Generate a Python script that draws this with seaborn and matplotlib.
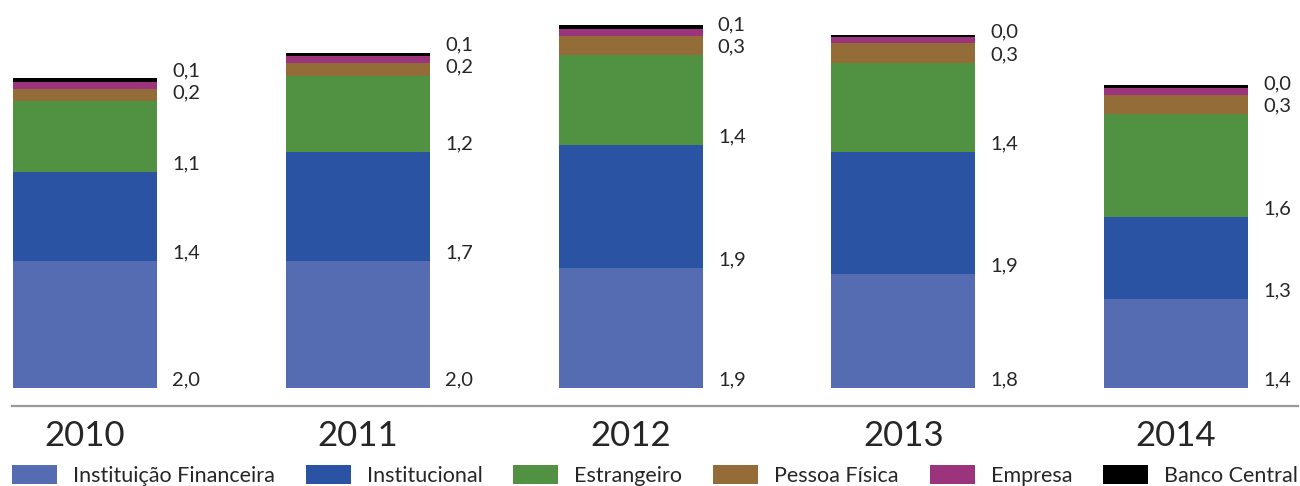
import numpy as np
import pandas as pd
import seaborn as sns
import matplotlib.pyplot as plt
from matplotlib.patches import Patch

# values
years = ['2010', '2011', '2012', '2013', '2014']
series = ['Instituição Financeira', 'Institucional', 'Estrangeiro',
          'Pessoa Física', 'Empresa', 'Banco Central']
inst_financeira = [1.98, 1.98, 1.88, 1.78, 1.39]
institucional = [1.39, 1.70, 1.91, 1.91, 1.28]
estrangeiro = [1.11, 1.20, 1.41, 1.39, 1.61]
pessoa_fisica = [0.19, 0.19, 0.30, 0.31, 0.30]
empresa = [0.11, 0.11, 0.11, 0.09, 0.11]
banco_central = [0.06, 0.06, 0.06, 0.04, 0.04]
colors = ['#556cb2', '#2a53a4', '#519242', '#936c37', '#9b347d', '#000000']

values = [inst_financeira, institucional, estrangeiro, pessoa_fisica, empresa, banco_central]
df = pd.DataFrame({s: v for s, v in zip(series, values)})
df['ano'] = years

sns.set_theme(style='white')
plt.rcParams['font.family'] = ['Lato', 'DejaVu Sans']

W, H = 1300, 486
fig = plt.figure(figsize=(W / 100, H / 100), dpi=100)
ax = fig.add_axes([12 / W, (H - 406) / H, (1298 - 12) / W, 406 / H])

bar_w = 0.528
bottom = np.zeros(len(years))
bottoms = {}
for s, c in zip(series, colors):
    bottoms[s] = bottom.copy()
    sns.barplot(data=df, x='ano', y=s, color=c, width=bar_w, bottom=bottom,
                errorbar=None, saturation=1, linewidth=0, edgecolor='none', ax=ax)
    bottom = bottom + df[s].to_numpy()


def fmt(v):
    return f'{v:.1f}'.replace('.', ',')


# value labels, baseline at the bottom of each segment
for i in range(len(years)):
    xr = i + bar_w / 2
    for s in series[:4]:
        ax.annotate(fmt(df[s][i]), xy=(xr, bottoms[s][i]), xytext=(11, 2),
                    textcoords='offset points', va='baseline', ha='left', fontsize=14.5)
    ax.annotate(fmt(df['Banco Central'][i]), xy=(xr, bottoms['Pessoa Física'][i]),
                xytext=(11, 18), textcoords='offset points', va='baseline', ha='left',
                fontsize=14.5)

ax.set_xlim(-0.268, 4.447)
ax.set_ylim(-0.28, 6.06)
ax.set_xlabel('')
ax.set_ylabel('')
ax.set_yticks([])
for side in ['top', 'left', 'right']:
    ax.spines[side].set_visible(False)
ax.spines['bottom'].set_color('#9a9a9a')
ax.spines['bottom'].set_linewidth(1.6)
ax.tick_params(axis='x', length=0, pad=10, labelsize=25)

handles = [Patch(facecolor=c, edgecolor='none') for c in colors]
fig.legend(handles, series, loc='lower left', bbox_to_anchor=(12 / W, 0),
           ncol=6, frameon=False, fontsize=15.5, handlelength=2.09, handleheight=1.02,
           handletextpad=0.74, columnspacing=1.44, borderpad=0, borderaxespad=0)

fig.savefig('out.png', dpi=100)
